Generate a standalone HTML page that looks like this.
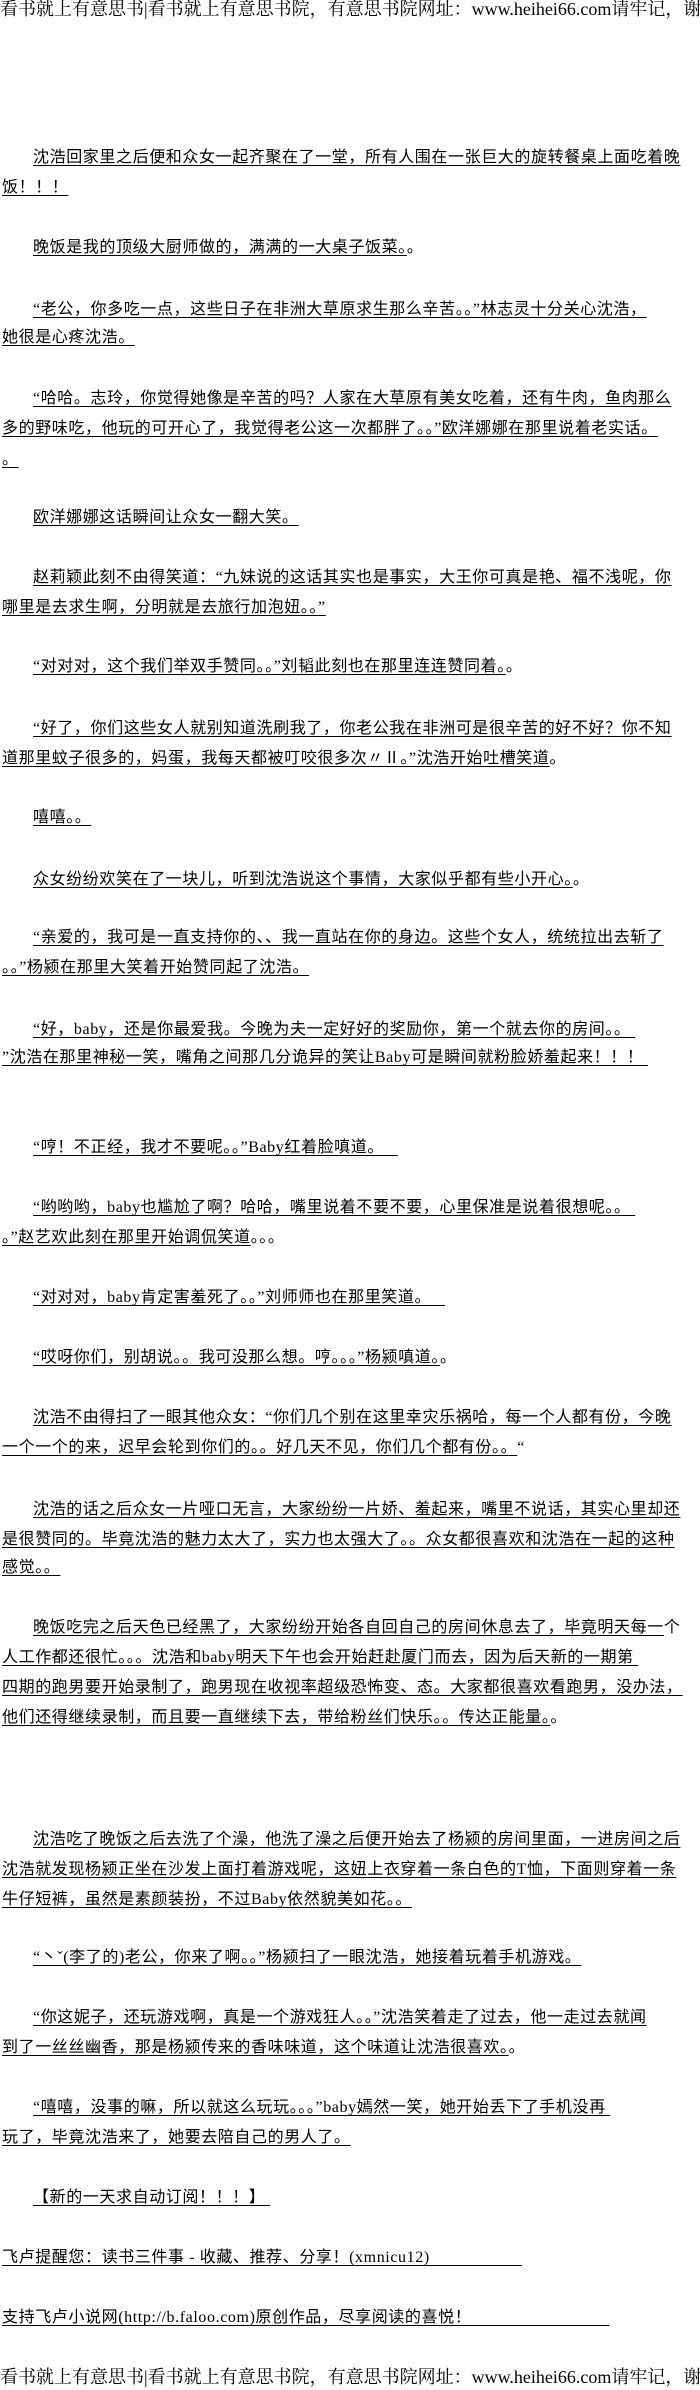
<!DOCTYPE html>
<html><head><meta charset="utf-8">
<style>
html,body{margin:0;padding:0;background:#fff;}
body{width:700px;height:2390px;position:relative;overflow:hidden;
font-family:"Liberation Serif","Noto Serif CJK SC","Noto Sans CJK SC",serif;color:#000;}
.l{position:absolute;left:2px;white-space:nowrap;font-size:16px;line-height:20px;height:20px;letter-spacing:0.6px;font-family:"Liberation Serif","Noto Sans CJK SC",sans-serif;}
.l span{text-decoration:underline;text-underline-offset:3px;text-decoration-thickness:1px;}
.i{left:33px;}
.h{position:absolute;left:0;white-space:nowrap;font-size:18px;line-height:22px;}
</style></head><body>
<div class="h" style="top:-2px">看书就上有意思书|看书就上有意思书院，有意思书院网址：www.heihei66.com请牢记，谢谢</div>

<div class="l i" style="top:148px"><span>沈浩回家里之后便和众女一起齐聚在了一堂，所有人围在一张巨大的旋转餐桌上面吃着晚</span></div>
<div class="l" style="top:178px"><span>饭！！！</span></div>
<div class="l i" style="top:238px"><span>晚饭是我的顶级大厨师做的，满满的一大桌子饭菜。</span>。</div>
<div class="l i" style="top:300px"><span>“老公，你多吃一点，这些日子在非洲大草原求生那么辛苦。。”林志灵十分关心沈浩，</span></div>
<div class="l" style="top:328px"><span>她很是心疼沈浩。</span></div>
<div class="l i" style="top:389px"><span>“哈哈。志玲，你觉得她像是辛苦的吗？人家在大草原有美女吃着，还有牛肉，鱼肉那么</span></div>
<div class="l" style="top:419px"><span>多的野味吃，他玩的可开心了，我觉得老公这一次都胖了。。”欧洋娜娜在那里说着老实话。</span></div>
<div class="l" style="top:450px"><span>。</span></div>
<div class="l i" style="top:508px"><span>欧洋娜娜这话瞬间让众女一翻大笑。</span></div>
<div class="l i" style="top:568px"><span>赵莉颖此刻不由得笑道：“九妹说的这话其实也是事实，大王你可真是艳、福不浅呢，你</span></div>
<div class="l" style="top:598px"><span>哪里是去求生啊，分明就是去旅行加泡妞。。”</span></div>
<div class="l i" style="top:657px"><span>“对对对，这个我们举双手赞同。。”刘韬此刻也在那里连连赞同着。</span>。</div>
<div class="l i" style="top:719px"><span>“好了，你们这些女人就别知道洗刷我了，你老公我在非洲可是很辛苦的好不好？你不知</span></div>
<div class="l" style="top:749px"><span>道那里蚊子很多的，妈蛋，我每天都被叮咬很多次〃Ⅱ。”沈浩开始吐槽笑道</span>。</div>
<div class="l i" style="top:808px"><span>嘻嘻。。</span></div>
<div class="l i" style="top:870px"><span>众女纷纷欢笑在了一块儿，听到沈浩说这个事情，大家似乎都有些小开心。</span>。</div>
<div class="l i" style="top:928px"><span>“亲爱的，我可是一直支持你的、、我一直站在你的身边。这些个女人，统统拉出去斩了</span></div>
<div class="l" style="top:958px"><span>。。”杨颍在那里大笑着开始赞同起了沈浩。</span></div>
<div class="l i" style="top:1020px"><span>“好，baby，还是你最爱我。今晚为夫一定好好的奖励你，第一个就去你的房间。。&nbsp;</span></div>
<div class="l" style="top:1048px"><span>”沈浩在那里神秘一笑，嘴角之间那几分诡异的笑让Baby可是瞬间就粉脸娇羞起来！！！&nbsp;</span></div>
<div class="l i" style="top:1138px"><span>“哼！不正经，我才不要呢。。”Baby红着脸嗔道。&nbsp;&nbsp;&nbsp;</span></div>
<div class="l i" style="top:1198px"><span>“哟哟哟，baby也尴尬了啊？哈哈，嘴里说着不要不要，心里保准是说着很想呢。。&nbsp;</span></div>
<div class="l" style="top:1228px"><span>。”赵艺欢此刻在那里开始调侃笑道</span>。。。</div>
<div class="l i" style="top:1288px"><span>“对对对，baby肯定害羞死了。。”刘师师也在那里笑道。&nbsp;&nbsp;&nbsp;</span></div>
<div class="l i" style="top:1348px"><span>“哎呀你们，别胡说。。我可没那么想。哼。。。”杨颍嗔道。</span>。</div>
<div class="l i" style="top:1408px"><span>沈浩不由得扫了一眼其他众女：“你们几个别在这里幸灾乐祸哈，每一个人都有份，今晚</span></div>
<div class="l" style="top:1438px"><span>一个一个的来，迟早会轮到你们的。。好几天不见，你们几个都有份。。</span>“</div>
<div class="l i" style="top:1500px"><span>沈浩的话之后众女一片哑口无言，大家纷纷一片娇、羞起来，嘴里不说话，其实心里却还</span></div>
<div class="l" style="top:1530px"><span>是很赞同的。毕竟沈浩的魅力太大了，实力也太强大了。。众女都很喜欢和沈浩在一起的这种</span></div>
<div class="l" style="top:1558px"><span>感觉。。</span></div>
<div class="l i" style="top:1618px"><span>晚饭吃完之后天色已经黑了，大家纷纷开始各自回自己的房间休息去了，毕竟明天每一</span>个</div>
<div class="l" style="top:1648px"><span>人工作都还很忙。。。沈浩和baby明天下午也会开始赶赴厦门而去，因为后天新的一期第&nbsp;</span></div>
<div class="l" style="top:1678px"><span>四期的跑男要开始录制了，跑男现在收视率超级恐怖变、态。大家都很喜欢看跑男，没办法，</span></div>
<div class="l" style="top:1708px"><span>他们还得继续录制，而且要一直继续下去，带给粉丝们快乐。。传达正能量。</span>。</div>
<div class="l i" style="top:1830px"><span>沈浩吃了晚饭之后去洗了个澡，他洗了澡之后便开始去了杨颍的房间里面，一进房间之后</span></div>
<div class="l" style="top:1860px"><span>沈浩就发现杨颍正坐在沙发上面打着游戏呢，这妞上衣穿着一条白色的T恤，下面则穿着一条</span></div>
<div class="l" style="top:1890px"><span>牛仔短裤，虽然是素颜装扮，不过Baby依然貌美如花。。</span></div>
<div class="l i" style="top:1948px"><span>“丶ˇ(李了的)老公，你来了啊。。”杨颍扫了一眼沈浩，她接着玩着手机游戏。</span></div>
<div class="l i" style="top:2008px"><span>“你这妮子，还玩游戏啊，真是一个游戏狂人。。”沈浩笑着走了过去，他一走过去就闻</span></div>
<div class="l" style="top:2038px"><span>到了一丝丝幽香，那是杨颍传来的香味味道，这个味道让沈浩很喜欢。</span>。</div>
<div class="l i" style="top:2098px"><span>“嘻嘻，没事的嘛，所以就这么玩玩。。。”baby嫣然一笑，她开始丢下了手机没再&nbsp;</span></div>
<div class="l" style="top:2128px"><span>玩了，毕竟沈浩来了，她要去陪自己的男人了。</span></div>
<div class="l i" style="top:2188px"><span>【新的一天求自动订阅！！！】&nbsp;</span></div>
<div class="l" style="top:2248px"><span>飞卢提醒您：读书三件事 - 收藏、推荐、分享！(xmnicu12)&nbsp;&nbsp;&nbsp;&nbsp;&nbsp;&nbsp;&nbsp;&nbsp;&nbsp;&nbsp;&nbsp;&nbsp;&nbsp;&nbsp;&nbsp;&nbsp;&nbsp;&nbsp;&nbsp;&nbsp;</span></div>
<div class="l" style="top:2308px"><span>支持飞卢小说网(http://b.faloo.com)原创作品，尽享阅读的喜悦！&nbsp;&nbsp;&nbsp;&nbsp;&nbsp;&nbsp;&nbsp;&nbsp;&nbsp;&nbsp;&nbsp;&nbsp;&nbsp;&nbsp;&nbsp;&nbsp;&nbsp;&nbsp;&nbsp;&nbsp;&nbsp;&nbsp;&nbsp;&nbsp;&nbsp;&nbsp;&nbsp;&nbsp;&nbsp;&nbsp;</span></div>

<div class="h" style="top:2366px">看书就上有意思书|看书就上有意思书院，有意思书院网址：www.heihei66.com请牢记，谢谢</div>
</body></html>
